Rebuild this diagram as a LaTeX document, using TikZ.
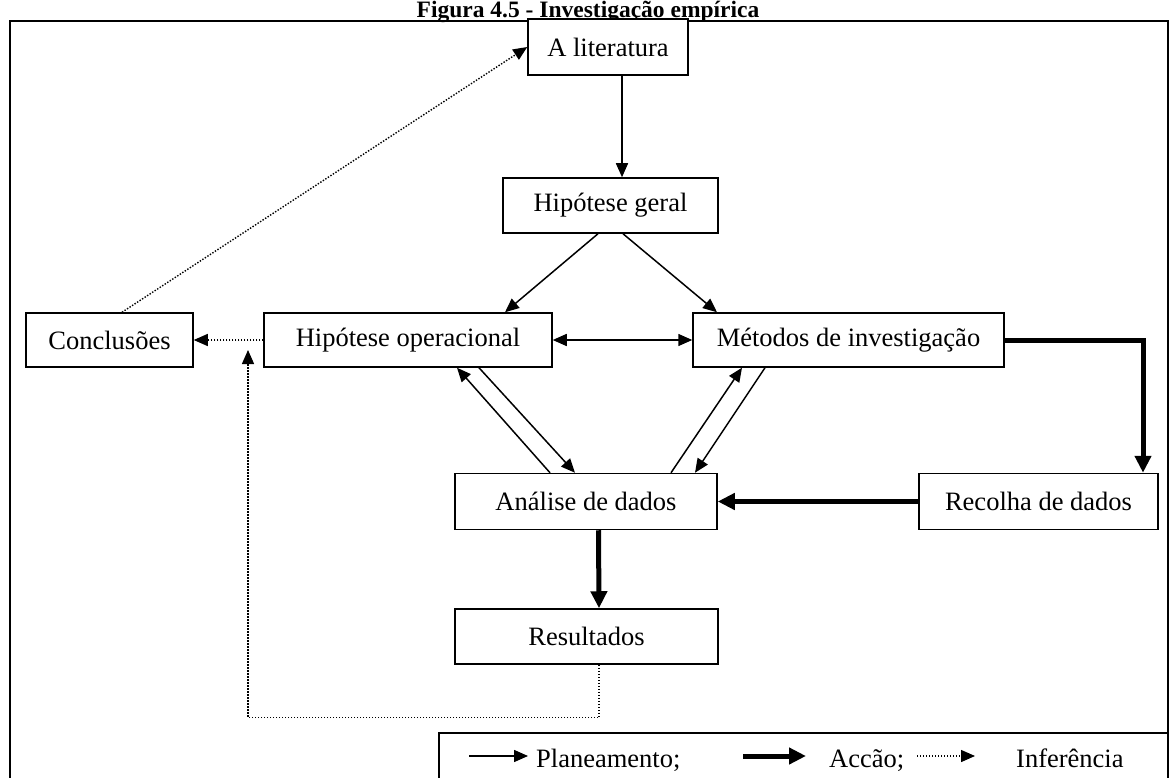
\documentclass[tikz,border=0pt]{standalone}
\usepackage{fontspec}
\setmainfont{Liberation Serif}
\usetikzlibrary{arrows.meta}
\begin{document}
\begin{tikzpicture}[x=1pt,y=-1pt]
    \tikzset{etapa/.style={draw,line width=1.5pt,fill=white,inner sep=0pt,minimum height=55pt,font=\fontsize{26.5}{30}\selectfont},
             legenda/.style={anchor=base west,inner sep=0pt,font=\fontsize{26.5}{30}\selectfont},
             plano/.style={line width=1.5pt,-{Triangle[length=14pt,width=12pt]}},
             planos/.style={line width=1.5pt,{Triangle[length=14pt,width=12pt]}-{Triangle[length=14pt,width=12pt]}},
             accao/.style={line width=5pt,line join=miter,-{Triangle[length=17pt,width=16pt]}},
             infer/.style={line width=1.4pt,dash pattern=on 1.4pt off 1.6pt,-{Triangle[length=14pt,width=12pt]}}}
    \useasboundingbox (0,0) rectangle (1176,778);
    \node[anchor=base,inner sep=0pt,font=\bfseries\fontsize{23.5}{26}\selectfont] (titulo) at (588,17.5) {Figura 4.5 - Investigação empírica};
    \draw[line width=2pt] (10,21) rectangle (1168,800);
    % etapas
    \node[etapa,minimum width=160pt,minimum height=56pt] (lit) at (608,47) {A literatura};
    \node[etapa,minimum width=215pt] (hgeral) at (610.5,205.5) {Hipótese geral};
    \node[etapa,minimum width=167pt,minimum height=54pt] (conc) at (109.5,340) {Conclusões};
    \node[etapa,minimum width=288pt,minimum height=54pt] (hop) at (408,340) {Hipótese operacional};
    \node[etapa,minimum width=311pt,minimum height=54pt] (met) at (848.5,340) {Métodos de investigação};
    \node[etapa,minimum width=262pt,minimum height=56pt] (ana) at (586,501.5) {Análise de dados};
    \node[etapa,minimum width=239pt,minimum height=56pt] (rec) at (1038.5,501.5) {Recolha de dados};
    \node[etapa,minimum width=263pt] (res) at (586.5,636.5) {Resultados};
    \coordinate (seta) at (248,350);
    % planeamento
    \draw[plano] ([xshift=14]lit.south) -- ([xshift=11.5]hgeral.north);
    \draw[plano] ([xshift=-12.5]hgeral.south) -- ([xshift=97]hop.north);
    \draw[plano] ([xshift=12.5]hgeral.south) -- ([xshift=-131.5]met.north);
    \draw[planos] (hop.east) -- (met.west);
    \draw[plano] ([xshift=-36]ana.north) -- ([xshift=49]hop.south);
    \draw[plano] ([xshift=71]hop.south) -- ([xshift=-11]ana.north);
    \draw[plano] ([xshift=85]ana.north) -- ([xshift=-106.5]met.south);
    \draw[plano] ([xshift=-83.5]met.south) -- ([xshift=109]ana.north);
    % accao
    \draw[accao] (met.east) -| ([xshift=104.5]rec.north);
    \draw[accao] (rec.west) -- (ana.east);
    \draw[accao] ([xshift=12.5]ana.south) -- ([xshift=12.5]res.north);
    % inferencia
    \draw[infer] (hop.west) -- (conc.east);
    \draw[infer] ([xshift=12.5]conc.north) -- (lit.west);
    \draw[infer] ([xshift=12.5]res.south) -- ++(0,53) -| (seta);
    % legenda
    \draw[line width=1.5pt] (439,733) rectangle (1168,800);
    \coordinate (l1) at (469,756); \coordinate (l2) at (528,756);
    \coordinate (l3) at (743,756); \coordinate (l4) at (806,756);
    \coordinate (l5) at (917,756); \coordinate (l6) at (975,756);
    \draw[plano] (l1) -- (l2);
    \draw[accao] (l3) -- (l4);
    \draw[infer] (l5) -- (l6);
    \node[legenda] (tplano) at (536,767) {Planeamento;};
    \node[legenda] (taccao) at (829,767) {Accão;};
    \node[legenda] (tinfer) at (1016,767) {Inferência};
\end{tikzpicture}
\end{document}
